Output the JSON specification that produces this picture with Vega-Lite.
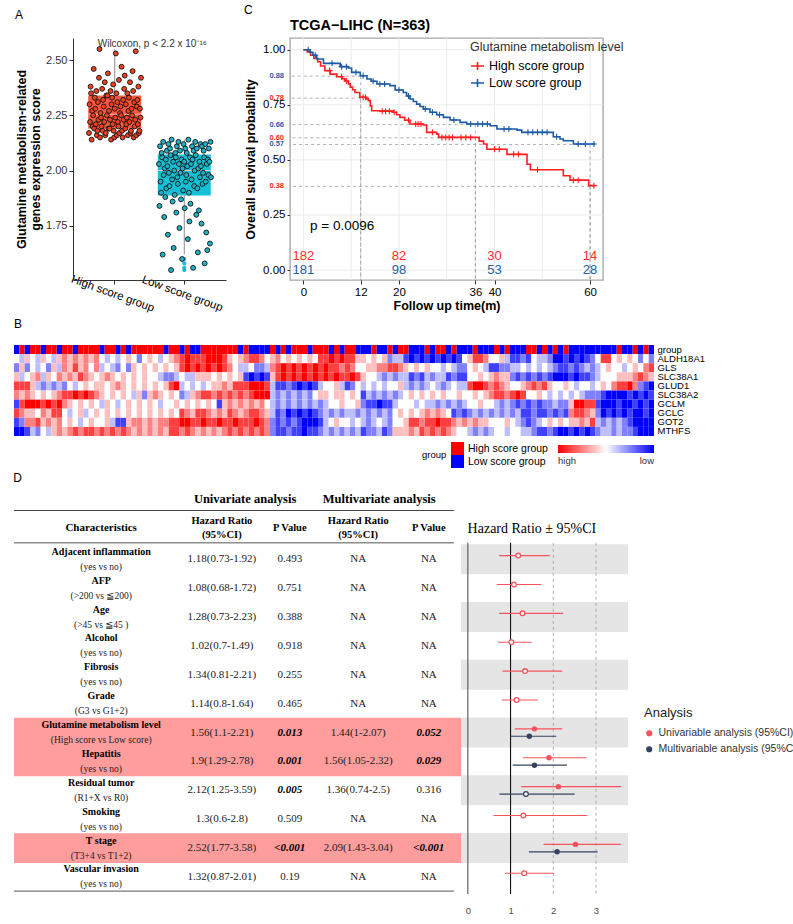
{
"$schema": "https://vega.github.io/schema/vega-lite/v6.json",
"background": "white",
"padding": {"left": 13, "top": 4, "right": 0, "bottom": 0},
"align": "none",
"config": {
  "view": {"stroke": null},
  "font": "Liberation Sans",
  "title": {"font": "Liberation Sans", "color": "black", "fontWeight": "normal", "fontSize": 12},
  "axis": {"labelFont": "Liberation Sans", "titleFont": "Liberation Sans", "labelColor": "black", "titleColor": "black"},
  "legend": {"labelFont": "Liberation Sans", "titleFont": "Liberation Sans"}
},
"datasets": {
  "boxA": [
{"g":"H","v":2.17,"i":1},{"g":"H","v":2.30,"i":2},{"g":"H","v":2.22,"i":3},{"g":"H","v":2.38,"i":4},
{"g":"H","v":2.35,"i":5},{"g":"H","v":2.14,"i":6},{"g":"H","v":2.27,"i":7},{"g":"H","v":2.20,"i":8},
{"g":"H","v":2.25,"i":9},{"g":"H","v":2.46,"i":10},{"g":"H","v":2.19,"i":11},{"g":"H","v":2.33,"i":12},
{"g":"H","v":2.28,"i":13},{"g":"H","v":2.21,"i":14},{"g":"H","v":2.36,"i":15},{"g":"H","v":2.16,"i":16},
{"g":"H","v":2.18,"i":17},{"g":"H","v":2.31,"i":18},{"g":"H","v":2.23,"i":19},{"g":"H","v":2.42,"i":20},
{"g":"H","v":2.55,"i":21},{"g":"H","v":2.15,"i":22},{"g":"H","v":2.26,"i":23},{"g":"H","v":2.24,"i":24},
{"g":"H","v":2.20,"i":25},{"g":"H","v":2.37,"i":26},{"g":"H","v":2.18,"i":27},{"g":"H","v":2.32,"i":28},
{"g":"H","v":2.29,"i":29},{"g":"H","v":2.22,"i":30},{"g":"H","v":2.40,"i":31},{"g":"H","v":2.16,"i":32},
{"g":"H","v":2.17,"i":33},{"g":"H","v":2.34,"i":34},{"g":"H","v":2.25,"i":35},{"g":"H","v":2.34,"i":36},
{"g":"H","v":2.44,"i":37},{"g":"H","v":2.19,"i":38},{"g":"H","v":2.27,"i":39},{"g":"H","v":2.19,"i":40},
{"g":"H","v":2.23,"i":41},{"g":"H","v":2.36,"i":42},{"g":"H","v":2.14,"i":43},{"g":"H","v":2.30,"i":44},
{"g":"H","v":2.33,"i":45},{"g":"H","v":2.21,"i":46},{"g":"H","v":2.39,"i":47},{"g":"H","v":2.18,"i":48},
{"g":"H","v":2.15,"i":49},{"g":"H","v":2.28,"i":50},{"g":"H","v":2.24,"i":51},{"g":"H","v":2.53,"i":52},
{"g":"H","v":2.35,"i":53},{"g":"H","v":2.16,"i":54},{"g":"H","v":2.31,"i":55},{"g":"H","v":2.22,"i":56},
{"g":"H","v":2.20,"i":57},{"g":"H","v":2.41,"i":58},{"g":"H","v":2.17,"i":59},{"g":"H","v":2.26,"i":60},
{"g":"H","v":2.29,"i":61},{"g":"H","v":2.25,"i":62},{"g":"H","v":2.47,"i":63},{"g":"H","v":2.18,"i":64},
{"g":"H","v":2.15,"i":65},{"g":"H","v":2.32,"i":66},{"g":"H","v":2.23,"i":67},{"g":"H","v":2.37,"i":68},
{"g":"H","v":2.43,"i":69},{"g":"H","v":2.19,"i":70},{"g":"H","v":2.30,"i":71},{"g":"H","v":2.21,"i":72},
{"g":"H","v":2.24,"i":73},{"g":"H","v":2.35,"i":74},{"g":"H","v":2.16,"i":75},{"g":"H","v":2.27,"i":76},
{"g":"H","v":2.33,"i":77},{"g":"H","v":2.22,"i":78},{"g":"H","v":2.40,"i":79},{"g":"H","v":2.17,"i":80},
{"g":"H","v":2.18,"i":81},{"g":"H","v":2.28,"i":82},{"g":"H","v":2.25,"i":83},{"g":"H","v":2.45,"i":84},
{"g":"H","v":2.36,"i":85},{"g":"H","v":2.15,"i":86},{"g":"H","v":2.31,"i":87},{"g":"H","v":2.20,"i":88},
{"g":"H","v":2.23,"i":89},{"g":"H","v":2.54,"i":90},{"g":"H","v":2.16,"i":91},{"g":"H","v":2.29,"i":92},
{"g":"H","v":2.32,"i":93},{"g":"H","v":2.21,"i":94},{"g":"H","v":2.38,"i":95},{"g":"H","v":2.17,"i":96},
{"g":"H","v":2.18,"i":97},{"g":"H","v":2.28,"i":98},{"g":"H","v":2.24,"i":99},{"g":"H","v":2.42,"i":100},
{"g":"L","v":2.03,"i":1},{"g":"L","v":1.84,"i":2},{"g":"L","v":2.11,"i":3},{"g":"L","v":1.95,"i":4},
{"g":"L","v":1.90,"i":5},{"g":"L","v":2.08,"i":6},{"g":"L","v":2.06,"i":7},{"g":"L","v":1.62,"i":8},
{"g":"L","v":2.13,"i":9},{"g":"L","v":1.98,"i":10},{"g":"L","v":1.79,"i":11},{"g":"L","v":2.01,"i":12},
{"g":"L","v":1.88,"i":13},{"g":"L","v":2.05,"i":14},{"g":"L","v":1.92,"i":15},{"g":"L","v":2.09,"i":16},
{"g":"L","v":2.02,"i":17},{"g":"L","v":1.71,"i":18},{"g":"L","v":2.12,"i":19},{"g":"L","v":1.99,"i":20},
{"g":"L","v":1.93,"i":21},{"g":"L","v":2.10,"i":22},{"g":"L","v":2.07,"i":23},{"g":"L","v":1.55,"i":24},
{"g":"L","v":2.14,"i":25},{"g":"L","v":1.96,"i":26},{"g":"L","v":1.86,"i":27},{"g":"L","v":2.04,"i":28},
{"g":"L","v":1.65,"i":29},{"g":"L","v":2.00,"i":30},{"g":"L","v":1.89,"i":31},{"g":"L","v":2.08,"i":32},
{"g":"L","v":2.06,"i":33},{"g":"L","v":1.81,"i":34},{"g":"L","v":2.11,"i":35},{"g":"L","v":1.97,"i":36},
{"g":"L","v":1.94,"i":37},{"g":"L","v":2.13,"i":38},{"g":"L","v":2.03,"i":39},{"g":"L","v":1.74,"i":40},
{"g":"L","v":2.09,"i":41},{"g":"L","v":1.99,"i":42},{"g":"L","v":1.87,"i":43},{"g":"L","v":2.05,"i":44},
{"g":"L","v":1.60,"i":45},{"g":"L","v":2.01,"i":46},{"g":"L","v":1.91,"i":47},{"g":"L","v":2.12,"i":48},
{"g":"L","v":2.04,"i":49},{"g":"L","v":1.83,"i":50},{"g":"L","v":2.10,"i":51},{"g":"L","v":1.95,"i":52},
{"g":"L","v":1.98,"i":53},{"g":"L","v":2.08,"i":54},{"g":"L","v":2.02,"i":55},{"g":"L","v":1.69,"i":56},
{"g":"L","v":2.14,"i":57},{"g":"L","v":1.90,"i":58},{"g":"L","v":1.77,"i":59},{"g":"L","v":2.06,"i":60},
{"g":"L","v":1.85,"i":61},{"g":"L","v":2.03,"i":62},{"g":"L","v":1.96,"i":63},{"g":"L","v":2.11,"i":64},
{"g":"L","v":2.05,"i":65},{"g":"L","v":1.56,"i":66},{"g":"L","v":2.09,"i":67},{"g":"L","v":1.93,"i":68},
{"g":"L","v":2.00,"i":69},{"g":"L","v":2.13,"i":70},{"g":"L","v":2.07,"i":71},{"g":"L","v":1.80,"i":72},
{"g":"L","v":2.10,"i":73},{"g":"L","v":1.92,"i":74},{"g":"L","v":1.63,"i":75},{"g":"L","v":2.01,"i":76},
{"g":"L","v":1.82,"i":77},{"g":"L","v":2.04,"i":78},{"g":"L","v":1.97,"i":79},{"g":"L","v":2.12,"i":80},
{"g":"L","v":2.02,"i":81},{"g":"L","v":1.76,"i":82},{"g":"L","v":2.11,"i":83},{"g":"L","v":1.94,"i":84},
{"g":"L","v":1.99,"i":85},{"g":"L","v":2.09,"i":86},{"g":"L","v":2.06,"i":87},{"g":"L","v":1.58,"i":88},
{"g":"L","v":2.12,"i":89},{"g":"L","v":1.95,"i":90},{"g":"L","v":1.72,"i":91},{"g":"L","v":2.03,"i":92},
{"g":"L","v":1.64,"i":93},{"g":"L","v":2.05,"i":94},{"g":"L","v":1.98,"i":95},{"g":"L","v":2.10,"i":96},
{"g":"L","v":2.04,"i":97},{"g":"L","v":1.67,"i":98},{"g":"L","v":2.13,"i":99},{"g":"L","v":1.97,"i":100}
  ],
  "km": [
{"g":"High score group","t":0,"s":1},{"g":"High score group","t":0.8,"s":0.99},{"g":"High score group","t":1.5,"s":0.975},{"g":"High score group","t":2.2,"s":0.96},{"g":"High score group","t":3,"s":0.945},{"g":"High score group","t":3.6,"s":0.926},{"g":"High score group","t":4.5,"s":0.905},{"g":"High score group","t":5.6,"s":0.889},{"g":"High score group","t":7,"s":0.877},{"g":"High score group","t":8.1,"s":0.868},{"g":"High score group","t":8.7,"s":0.858},{"g":"High score group","t":9.4,"s":0.845},{"g":"High score group","t":9.8,"s":0.83},{"g":"High score group","t":10.3,"s":0.818},{"g":"High score group","t":10.8,"s":0.806},{"g":"High score group","t":11.8,"s":0.784},{"g":"High score group","t":13.1,"s":0.777},{"g":"High score group","t":13.6,"s":0.769},{"g":"High score group","t":14,"s":0.745},{"g":"High score group","t":14.3,"s":0.723},{"g":"High score group","t":16,"s":0.721},{"g":"High score group","t":18.8,"s":0.716},{"g":"High score group","t":19.5,"s":0.705},{"g":"High score group","t":20.2,"s":0.693},{"g":"High score group","t":21.2,"s":0.68},{"g":"High score group","t":22.3,"s":0.663},{"g":"High score group","t":25.1,"s":0.658},{"g":"High score group","t":25.8,"s":0.625},{"g":"High score group","t":27.9,"s":0.617},{"g":"High score group","t":28.3,"s":0.602},{"g":"High score group","t":36.8,"s":0.585},{"g":"High score group","t":37.7,"s":0.572},{"g":"High score group","t":38.4,"s":0.548},{"g":"High score group","t":42.6,"s":0.525},{"g":"High score group","t":46.8,"s":0.48},{"g":"High score group","t":47.5,"s":0.455},{"g":"High score group","t":54.4,"s":0.428},{"g":"High score group","t":55.8,"s":0.408},{"g":"High score group","t":59.7,"s":0.383},{"g":"High score group","t":61,"s":0.383},
{"g":"Low score group","t":0,"s":1},{"g":"Low score group","t":1.4,"s":0.988},{"g":"Low score group","t":2,"s":0.975},{"g":"Low score group","t":2.8,"s":0.958},{"g":"Low score group","t":4.2,"s":0.938},{"g":"Low score group","t":7.7,"s":0.923},{"g":"Low score group","t":9.4,"s":0.917},{"g":"Low score group","t":10.1,"s":0.897},{"g":"Low score group","t":11.9,"s":0.882},{"g":"Low score group","t":13.3,"s":0.867},{"g":"Low score group","t":14.2,"s":0.857},{"g":"Low score group","t":15.4,"s":0.844},{"g":"Low score group","t":18.1,"s":0.837},{"g":"Low score group","t":19.2,"s":0.817},{"g":"Low score group","t":20.9,"s":0.806},{"g":"Low score group","t":21.6,"s":0.79},{"g":"Low score group","t":22.3,"s":0.776},{"g":"Low score group","t":23,"s":0.765},{"g":"Low score group","t":23.7,"s":0.753},{"g":"Low score group","t":24.4,"s":0.742},{"g":"Low score group","t":25.1,"s":0.731},{"g":"Low score group","t":26.5,"s":0.716},{"g":"Low score group","t":27.9,"s":0.705},{"g":"Low score group","t":29.3,"s":0.693},{"g":"Low score group","t":30.7,"s":0.681},{"g":"Low score group","t":32.8,"s":0.67},{"g":"Low score group","t":34.2,"s":0.663},{"g":"Low score group","t":39.1,"s":0.655},{"g":"Low score group","t":40.5,"s":0.64},{"g":"Low score group","t":44.7,"s":0.635},{"g":"Low score group","t":45.7,"s":0.625},{"g":"Low score group","t":52.3,"s":0.605},{"g":"Low score group","t":53.7,"s":0.595},{"g":"Low score group","t":54.4,"s":0.587},{"g":"Low score group","t":56.5,"s":0.572},{"g":"Low score group","t":61,"s":0.572}
  ],
  "cens": [
{"g":"High score group","t":5.5,"s":0.905},{"g":"High score group","t":8,"s":0.877},{"g":"High score group","t":9,"s":0.858},{"g":"High score group","t":12.5,"s":0.784},{"g":"High score group","t":13,"s":0.784},{"g":"High score group","t":16.5,"s":0.721},{"g":"High score group","t":17.2,"s":0.721},{"g":"High score group","t":18,"s":0.721},{"g":"High score group","t":19,"s":0.716},{"g":"High score group","t":22,"s":0.68},{"g":"High score group","t":23.5,"s":0.663},{"g":"High score group","t":24,"s":0.663},{"g":"High score group","t":24.6,"s":0.663},{"g":"High score group","t":27,"s":0.625},{"g":"High score group","t":29,"s":0.602},{"g":"High score group","t":29.8,"s":0.602},{"g":"High score group","t":30.5,"s":0.602},{"g":"High score group","t":31.2,"s":0.602},{"g":"High score group","t":33,"s":0.602},{"g":"High score group","t":34,"s":0.602},{"g":"High score group","t":35,"s":0.602},{"g":"High score group","t":40,"s":0.548},{"g":"High score group","t":41,"s":0.548},{"g":"High score group","t":44,"s":0.525},{"g":"High score group","t":45,"s":0.525},{"g":"High score group","t":49,"s":0.455},{"g":"High score group","t":56.5,"s":0.408},{"g":"High score group","t":57.5,"s":0.408},{"g":"High score group","t":60.8,"s":0.383},
{"g":"Low score group","t":1,"s":1},{"g":"Low score group","t":2.5,"s":0.975},{"g":"Low score group","t":6,"s":0.938},{"g":"Low score group","t":8,"s":0.923},{"g":"Low score group","t":9,"s":0.923},{"g":"Low score group","t":11,"s":0.897},{"g":"Low score group","t":12.5,"s":0.882},{"g":"Low score group","t":14.6,"s":0.857},{"g":"Low score group","t":16,"s":0.844},{"g":"Low score group","t":17,"s":0.844},{"g":"Low score group","t":20,"s":0.817},{"g":"Low score group","t":22,"s":0.79},{"g":"Low score group","t":25.5,"s":0.731},{"g":"Low score group","t":27,"s":0.716},{"g":"Low score group","t":28.5,"s":0.705},{"g":"Low score group","t":31.5,"s":0.681},{"g":"Low score group","t":35,"s":0.663},{"g":"Low score group","t":36.5,"s":0.663},{"g":"Low score group","t":37.5,"s":0.663},{"g":"Low score group","t":38.5,"s":0.663},{"g":"Low score group","t":42,"s":0.64},{"g":"Low score group","t":43,"s":0.64},{"g":"Low score group","t":47,"s":0.625},{"g":"Low score group","t":48,"s":0.625},{"g":"Low score group","t":49,"s":0.625},{"g":"Low score group","t":50,"s":0.625},{"g":"Low score group","t":51,"s":0.625},{"g":"Low score group","t":53,"s":0.605},{"g":"Low score group","t":57.5,"s":0.572},{"g":"Low score group","t":59,"s":0.572},{"g":"Low score group","t":60.8,"s":0.572}
  ],
  "kmref": [{"t":12,"s":0.88,"g":"L"},{"t":12,"s":0.78,"g":"H"},{"t":36,"s":0.66,"g":"L"},{"t":36,"s":0.6,"g":"H"},{"t":60,"s":0.57,"g":"L"},{"t":60,"s":0.38,"g":"H"}],
  "risk": [{"g":"H","t":0,"n":182},{"g":"H","t":20,"n":82},{"g":"H","t":40,"n":30},{"g":"H","t":60,"n":14},{"g":"L","t":0,"n":181},{"g":"L","t":20,"n":98},{"g":"L","t":40,"n":53},{"g":"L","t":60,"n":28}],
  "gx": [{"v":0},{"v":10},{"v":20},{"v":30},{"v":40},{"v":50},{"v":60}],
  "gy": [{"v":0},{"v":0.25},{"v":0.5},{"v":0.75},{"v":1}],
  "heat": [
{"col":1,"grp":"L","a":0,"b":-2,"c":1,"d":3,"e":2,"f":-3,"g":3,"h":-3,"i":-4},
{"col":2,"grp":"H","a":-1,"b":1,"c":-1,"d":3,"e":1,"f":3,"g":2,"h":-2,"i":-4},
{"col":3,"grp":"L","a":1,"b":-2,"c":0,"d":3,"e":2,"f":4,"g":1,"h":2,"i":-3},
{"col":4,"grp":"H","a":0,"b":0,"c":1,"d":1,"e":1,"f":4,"g":1,"h":2,"i":-1},
{"col":5,"grp":"H","a":-1,"b":-1,"c":2,"d":-1,"e":0,"f":4,"g":0,"h":3,"i":-2},
{"col":6,"grp":"L","a":1,"b":0,"c":-1,"d":-2,"e":1,"f":3,"g":2,"h":1,"i":0},
{"col":7,"grp":"H","a":0,"b":-2,"c":1,"d":-1,"e":0,"f":4,"g":1,"h":2,"i":-1},
{"col":8,"grp":"H","a":-1,"b":1,"c":0,"d":-2,"e":1,"f":3,"g":3,"h":1,"i":1},
{"col":9,"grp":"L","a":1,"b":-1,"c":2,"d":-1,"e":2,"f":4,"g":3,"h":2,"i":2},
{"col":10,"grp":"H","a":2,"b":2,"c":1,"d":-2,"e":3,"f":2,"g":0,"h":0,"i":1},
{"col":11,"grp":"H","a":1,"b":1,"c":2,"d":0,"e":3,"f":1,"g":-1,"h":1,"i":2},
{"col":12,"grp":"L","a":2,"b":3,"c":1,"d":-1,"e":4,"f":0,"g":0,"h":0,"i":3},
{"col":13,"grp":"H","a":1,"b":1,"c":3,"d":0,"e":3,"f":1,"g":1,"h":-1,"i":2},
{"col":14,"grp":"H","a":2,"b":2,"c":2,"d":1,"e":4,"f":0,"g":-1,"h":0,"i":3},
{"col":15,"grp":"H","a":1,"b":0,"c":1,"d":0,"e":3,"f":1,"g":0,"h":1,"i":3},
{"col":16,"grp":"H","a":2,"b":2,"c":0,"d":1,"e":2,"f":0,"g":1,"h":0,"i":2},
{"col":17,"grp":"L","a":0,"b":-1,"c":1,"d":1,"e":1,"f":-1,"g":0,"h":0,"i":3},
{"col":18,"grp":"H","a":-1,"b":0,"c":2,"d":0,"e":0,"f":1,"g":1,"h":1,"i":2},
{"col":19,"grp":"H","a":0,"b":-1,"c":1,"d":1,"e":1,"f":0,"g":0,"h":-1,"i":3},
{"col":20,"grp":"L","a":-1,"b":-2,"c":0,"d":2,"e":0,"f":-1,"g":1,"h":-3,"i":2},
{"col":21,"grp":"H","a":0,"b":0,"c":1,"d":1,"e":1,"f":0,"g":0,"h":-3,"i":3},
{"col":22,"grp":"L","a":1,"b":-2,"c":0,"d":0,"e":0,"f":1,"g":1,"h":1,"i":2},
{"col":23,"grp":"H","a":0,"b":1,"c":1,"d":1,"e":-1,"f":0,"g":0,"h":2,"i":1},
{"col":24,"grp":"H","a":-2,"b":0,"c":0,"d":0,"e":1,"f":1,"g":1,"h":2,"i":2},
{"col":25,"grp":"H","a":0,"b":1,"c":1,"d":1,"e":-2,"f":0,"g":0,"h":1,"i":1},
{"col":26,"grp":"H","a":1,"b":0,"c":0,"d":0,"e":1,"f":1,"g":1,"h":2,"i":2},
{"col":27,"grp":"H","a":0,"b":1,"c":0,"d":1,"e":2,"f":0,"g":0,"h":1,"i":1},
{"col":28,"grp":"H","a":-1,"b":0,"c":-1,"d":0,"e":1,"f":-1,"g":1,"h":2,"i":2},
{"col":29,"grp":"L","a":0,"b":1,"c":-2,"d":1,"e":0,"f":0,"g":0,"h":2,"i":1},
{"col":30,"grp":"H","a":1,"b":0,"c":-2,"d":3,"e":1,"f":0,"g":1,"h":3,"i":3},
{"col":31,"grp":"H","a":2,"b":1,"c":-1,"d":4,"e":0,"f":1,"g":0,"h":3,"i":3},
{"col":32,"grp":"L","a":3,"b":3,"c":0,"d":-1,"e":-2,"f":0,"g":3,"h":4,"i":2},
{"col":33,"grp":"H","a":4,"b":4,"c":-1,"d":0,"e":-1,"f":1,"g":2,"h":4,"i":3},
{"col":34,"grp":"L","a":3,"b":3,"c":-1,"d":-1,"e":1,"f":0,"g":1,"h":3,"i":2},
{"col":35,"grp":"L","a":3,"b":4,"c":1,"d":0,"e":2,"f":1,"g":3,"h":3,"i":1},
{"col":36,"grp":"H","a":3,"b":3,"c":1,"d":-1,"e":3,"f":0,"g":3,"h":4,"i":2},
{"col":37,"grp":"H","a":4,"b":4,"c":1,"d":0,"e":3,"f":1,"g":2,"h":3,"i":1},
{"col":38,"grp":"H","a":4,"b":3,"c":0,"d":1,"e":2,"f":0,"g":1,"h":3,"i":2},
{"col":39,"grp":"H","a":4,"b":4,"c":1,"d":1,"e":3,"f":-3,"g":2,"h":4,"i":1},
{"col":40,"grp":"H","a":3,"b":3,"c":0,"d":2,"e":2,"f":1,"g":1,"h":3,"i":2},
{"col":41,"grp":"H","a":1,"b":2,"c":1,"d":1,"e":3,"f":2,"g":3,"h":3,"i":3},
{"col":42,"grp":"H","a":0,"b":0,"c":0,"d":3,"e":2,"f":1,"g":2,"h":4,"i":2},
{"col":43,"grp":"L","a":1,"b":-1,"c":1,"d":3,"e":3,"f":2,"g":1,"h":3,"i":3},
{"col":44,"grp":"H","a":2,"b":-1,"c":-3,"d":3,"e":2,"f":1,"g":2,"h":3,"i":2},
{"col":45,"grp":"L","a":3,"b":0,"c":-4,"d":4,"e":3,"f":2,"g":3,"h":3,"i":3},
{"col":46,"grp":"L","a":3,"b":-2,"c":-3,"d":4,"e":4,"f":1,"g":3,"h":4,"i":2},
{"col":47,"grp":"L","a":2,"b":-2,"c":-4,"d":4,"e":4,"f":2,"g":2,"h":3,"i":3},
{"col":48,"grp":"L","a":0,"b":-1,"c":-3,"d":3,"e":4,"f":0,"g":1,"h":2,"i":2},
{"col":49,"grp":"H","a":1,"b":2,"c":1,"d":-1,"e":-1,"f":-1,"g":-1,"h":-2,"i":-2},
{"col":50,"grp":"L","a":2,"b":3,"c":3,"d":-3,"e":-2,"f":-2,"g":-3,"h":-3,"i":-3},
{"col":51,"grp":"H","a":0,"b":4,"c":4,"d":-3,"e":-1,"f":-1,"g":-2,"h":-2,"i":-3},
{"col":52,"grp":"L","a":1,"b":3,"c":3,"d":-2,"e":-2,"f":-2,"g":-4,"h":-3,"i":-2},
{"col":53,"grp":"H","a":0,"b":4,"c":4,"d":-3,"e":-1,"f":-1,"g":-3,"h":-2,"i":-3},
{"col":54,"grp":"H","a":1,"b":3,"c":3,"d":-4,"e":-2,"f":-2,"g":-4,"h":-3,"i":-3},
{"col":55,"grp":"H","a":0,"b":4,"c":4,"d":-3,"e":-1,"f":-1,"g":-3,"h":-4,"i":-4},
{"col":56,"grp":"L","a":1,"b":3,"c":3,"d":-4,"e":-2,"f":-2,"g":-4,"h":-4,"i":-3},
{"col":57,"grp":"H","a":0,"b":4,"c":4,"d":-3,"e":0,"f":-1,"g":-3,"h":-4,"i":-3},
{"col":58,"grp":"H","a":3,"b":3,"c":3,"d":-1,"e":1,"f":-2,"g":-2,"h":-3,"i":-2},
{"col":59,"grp":"H","a":3,"b":4,"c":4,"d":0,"e":1,"f":-1,"g":-1,"h":-1,"i":-1},
{"col":60,"grp":"L","a":4,"b":3,"c":3,"d":0,"e":0,"f":0,"g":-2,"h":0,"i":-2},
{"col":61,"grp":"H","a":3,"b":3,"c":4,"d":1,"e":1,"f":0,"g":-1,"h":1,"i":-1},
{"col":62,"grp":"L","a":4,"b":2,"c":3,"d":-1,"e":1,"f":1,"g":-2,"h":0,"i":-2},
{"col":63,"grp":"H","a":3,"b":3,"c":3,"d":-3,"e":0,"f":0,"g":-1,"h":0,"i":-1},
{"col":64,"grp":"H","a":3,"b":2,"c":4,"d":-2,"e":1,"f":0,"g":-1,"h":-1,"i":-2},
{"col":65,"grp":"L","a":1,"b":0,"c":3,"d":0,"e":0,"f":1,"g":-2,"h":0,"i":-1},
{"col":66,"grp":"L","a":1,"b":0,"c":1,"d":-1,"e":-3,"f":-2,"g":-1,"h":-1,"i":-3},
{"col":67,"grp":"L","a":0,"b":1,"c":0,"d":0,"e":-1,"f":-3,"g":-2,"h":-2,"i":-2},
{"col":68,"grp":"H","a":1,"b":1,"c":0,"d":-1,"e":-2,"f":-3,"g":-1,"h":-1,"i":-2},
{"col":69,"grp":"L","a":0,"b":2,"c":-1,"d":0,"e":-1,"f":-4,"g":-2,"h":0,"i":-1},
{"col":70,"grp":"L","a":1,"b":2,"c":-2,"d":-1,"e":-2,"f":-3,"g":-1,"h":-1,"i":-3},
{"col":71,"grp":"H","a":-2,"b":3,"c":-1,"d":0,"e":-1,"f":-3,"g":-2,"h":-2,"i":-2},
{"col":72,"grp":"L","a":-1,"b":3,"c":-2,"d":0,"e":-2,"f":-1,"g":0,"h":0,"i":1},
{"col":73,"grp":"H","a":-1,"b":2,"c":-1,"d":1,"e":-1,"f":0,"g":1,"h":0,"i":1},
{"col":74,"grp":"H","a":-3,"b":1,"c":-1,"d":-1,"e":0,"f":0,"g":0,"h":1,"i":1},
{"col":75,"grp":"L","a":-4,"b":0,"c":-3,"d":-2,"e":1,"f":0,"g":1,"h":3,"i":2},
{"col":76,"grp":"L","a":-3,"b":1,"c":-2,"d":-1,"e":0,"f":-1,"g":0,"h":3,"i":1},
{"col":77,"grp":"L","a":-4,"b":0,"c":-3,"d":-2,"e":1,"f":0,"g":1,"h":2,"i":3},
{"col":78,"grp":"H","a":-3,"b":1,"c":-1,"d":-1,"e":0,"f":-1,"g":2,"h":3,"i":2},
{"col":79,"grp":"L","a":-4,"b":0,"c":-2,"d":0,"e":1,"f":-1,"g":1,"h":3,"i":3},
{"col":80,"grp":"H","a":-3,"b":0,"c":-1,"d":-1,"e":0,"f":-2,"g":2,"h":4,"i":2},
{"col":81,"grp":"H","a":-4,"b":-1,"c":-1,"d":-2,"e":1,"f":-1,"g":1,"h":3,"i":3},
{"col":82,"grp":"L","a":-3,"b":0,"c":-3,"d":-1,"e":0,"f":-2,"g":0,"h":3,"i":2},
{"col":83,"grp":"H","a":-4,"b":-1,"c":-2,"d":0,"e":0,"f":-1,"g":-3,"h":2,"i":1},
{"col":84,"grp":"L","a":-3,"b":-2,"c":-3,"d":-1,"e":1,"f":-2,"g":-2,"h":1,"i":0},
{"col":85,"grp":"L","a":0,"b":-2,"c":-3,"d":-1,"e":0,"f":-1,"g":-3,"h":2,"i":0},
{"col":86,"grp":"L","a":1,"b":0,"c":0,"d":3,"e":0,"f":0,"g":-2,"h":1,"i":-1},
{"col":87,"grp":"H","a":3,"b":1,"c":0,"d":4,"e":1,"f":0,"g":-1,"h":2,"i":-2},
{"col":88,"grp":"L","a":3,"b":0,"c":1,"d":4,"e":0,"f":1,"g":-2,"h":1,"i":-1},
{"col":89,"grp":"L","a":2,"b":-1,"c":0,"d":3,"e":1,"f":0,"g":-1,"h":1,"i":-2},
{"col":90,"grp":"L","a":0,"b":-3,"c":1,"d":2,"e":2,"f":0,"g":-2,"h":0,"i":-1},
{"col":91,"grp":"H","a":0,"b":-3,"c":2,"d":3,"e":3,"f":-1,"g":-1,"h":0,"i":0},
{"col":92,"grp":"L","a":1,"b":-2,"c":1,"d":2,"e":3,"f":-2,"g":-2,"h":0,"i":0},
{"col":93,"grp":"H","a":-1,"b":-2,"c":1,"d":1,"e":2,"f":-1,"g":-1,"h":1,"i":-1},
{"col":94,"grp":"L","a":-3,"b":-1,"c":-2,"d":0,"e":3,"f":-2,"g":-2,"h":0,"i":0},
{"col":95,"grp":"L","a":-3,"b":-1,"c":-3,"d":0,"e":4,"f":-3,"g":-1,"h":-1,"i":0},
{"col":96,"grp":"L","a":-2,"b":0,"c":-2,"d":1,"e":3,"f":-2,"g":-3,"h":-2,"i":-1},
{"col":97,"grp":"H","a":-3,"b":-1,"c":-3,"d":2,"e":0,"f":-3,"g":-3,"h":-3,"i":-1},
{"col":98,"grp":"H","a":0,"b":0,"c":-2,"d":3,"e":0,"f":-2,"g":-2,"h":-2,"i":-2},
{"col":99,"grp":"L","a":-1,"b":-1,"c":-3,"d":2,"e":1,"f":-3,"g":-3,"h":-1,"i":-3},
{"col":100,"grp":"H","a":-1,"b":0,"c":-2,"d":3,"e":0,"f":-2,"g":-3,"h":0,"i":-3},
{"col":101,"grp":"L","a":-2,"b":-1,"c":-3,"d":1,"e":-1,"f":-2,"g":-2,"h":1,"i":-2},
{"col":102,"grp":"H","a":-4,"b":-2,"c":-4,"d":0,"e":0,"f":-1,"g":-3,"h":0,"i":-3},
{"col":103,"grp":"L","a":-4,"b":-3,"c":-4,"d":0,"e":-1,"f":-2,"g":-2,"h":1,"i":-4},
{"col":104,"grp":"H","a":-3,"b":-3,"c":-4,"d":1,"e":0,"f":-2,"g":-3,"h":0,"i":-4},
{"col":105,"grp":"L","a":-4,"b":-2,"c":-3,"d":0,"e":-1,"f":1,"g":2,"h":1,"i":-3},
{"col":106,"grp":"L","a":-3,"b":-3,"c":-4,"d":-1,"e":0,"f":4,"g":3,"h":1,"i":-4},
{"col":107,"grp":"L","a":-4,"b":-2,"c":-3,"d":0,"e":-1,"f":4,"g":3,"h":2,"i":-3},
{"col":108,"grp":"L","a":-3,"b":-1,"c":-3,"d":0,"e":-2,"f":3,"g":2,"h":1,"i":-4},
{"col":109,"grp":"L","a":-2,"b":-2,"c":-2,"d":-1,"e":-2,"f":3,"g":1,"h":3,"i":-3},
{"col":110,"grp":"L","a":0,"b":-1,"c":-1,"d":0,"e":-2,"f":-3,"g":-2,"h":-1,"i":-2},
{"col":111,"grp":"L","a":3,"b":0,"c":0,"d":1,"e":-3,"f":-4,"g":-4,"h":-2,"i":-1},
{"col":112,"grp":"L","a":3,"b":1,"c":0,"d":0,"e":-4,"f":-4,"g":-3,"h":-1,"i":-1},
{"col":113,"grp":"L","a":0,"b":0,"c":0,"d":2,"e":-4,"f":-4,"g":-4,"h":-2,"i":-2},
{"col":114,"grp":"H","a":1,"b":0,"c":1,"d":3,"e":-4,"f":-3,"g":-3,"h":-1,"i":-1},
{"col":115,"grp":"L","a":0,"b":-1,"c":1,"d":3,"e":-4,"f":-4,"g":-4,"h":-2,"i":-2},
{"col":116,"grp":"L","a":1,"b":0,"c":1,"d":4,"e":-3,"f":-4,"g":-3,"h":-3,"i":-2},
{"col":117,"grp":"H","a":0,"b":1,"c":2,"d":2,"e":-4,"f":-3,"g":-4,"h":-4,"i":-3},
{"col":118,"grp":"L","a":-2,"b":0,"c":3,"d":-2,"e":-3,"f":-4,"g":-4,"h":-4,"i":-4},
{"col":119,"grp":"H","a":0,"b":2,"c":2,"d":-3,"e":-4,"f":-3,"g":-3,"h":-4,"i":-4},
{"col":120,"grp":"L","a":-2,"b":3,"c":1,"d":-4,"e":-3,"f":-4,"g":-4,"h":-4,"i":-4}
  ],
  "tab": [
{"r":1,"name":"Adjacent inflammation","sub":"(yes vs no)","uhr":"1.18(0.73-1.92)","up":"0.493","us":false,"mhr":"NA","mp":"NA","ms":false,"hl":false},
{"r":2,"name":"AFP","sub":"(>200 vs  ≦200)","uhr":"1.08(0.68-1.72)","up":"0.751","us":false,"mhr":"NA","mp":"NA","ms":false,"hl":false},
{"r":3,"name":"Age","sub":"(>45 vs  ≦45 )","uhr":"1.28(0.73-2.23)","up":"0.388","us":false,"mhr":"NA","mp":"NA","ms":false,"hl":false},
{"r":4,"name":"Alcohol","sub":"(yes vs no)","uhr":"1.02(0.7-1.49)","up":"0.918","us":false,"mhr":"NA","mp":"NA","ms":false,"hl":false},
{"r":5,"name":"Fibrosis","sub":"(yes vs no)","uhr":"1.34(0.81-2.21)","up":"0.255","us":false,"mhr":"NA","mp":"NA","ms":false,"hl":false},
{"r":6,"name":"Grade","sub":"(G3 vs G1+2)","uhr":"1.14(0.8-1.64)","up":"0.465","us":false,"mhr":"NA","mp":"NA","ms":false,"hl":false},
{"r":7,"name":"Glutamine metabolism level","sub":"(High score vs Low score)","uhr":"1.56(1.1-2.21)","up":"0.013","us":true,"mhr":"1.44(1-2.07)","mp":"0.052","ms":true,"hl":true},
{"r":8,"name":"Hepatitis","sub":"(yes vs no)","uhr":"1.9(1.29-2.78)","up":"0.001","us":true,"mhr":"1.56(1.05-2.32)","mp":"0.029","ms":true,"hl":true},
{"r":9,"name":"Residual tumor","sub":"(R1+X vs R0)","uhr":"2.12(1.25-3.59)","up":"0.005","us":true,"mhr":"1.36(0.74-2.5)","mp":"0.316","ms":false,"hl":false},
{"r":10,"name":"Smoking","sub":"(yes vs no)","uhr":"1.3(0.6-2.8)","up":"0.509","us":false,"mhr":"NA","mp":"NA","ms":false,"hl":false},
{"r":11,"name":"T stage","sub":"(T3+4 vs T1+2)","uhr":"2.52(1.77-3.58)","up":"<0.001","us":true,"mhr":"2.09(1.43-3.04)","mp":"<0.001","ms":true,"hl":true},
{"r":12,"name":"Vascular invasion","sub":"(yes vs no)","uhr":"1.32(0.87-2.01)","up":"0.19","us":false,"mhr":"NA","mp":"NA","ms":false,"hl":false}
  ],
  "forest": [
{"r":1,"a":"Univariable analysis (95%CI)","hr":1.18,"lo":0.73,"hi":1.92,"sig":false},
{"r":2,"a":"Univariable analysis (95%CI)","hr":1.08,"lo":0.68,"hi":1.72,"sig":false},
{"r":3,"a":"Univariable analysis (95%CI)","hr":1.28,"lo":0.73,"hi":2.23,"sig":false},
{"r":4,"a":"Univariable analysis (95%CI)","hr":1.02,"lo":0.7,"hi":1.49,"sig":false},
{"r":5,"a":"Univariable analysis (95%CI)","hr":1.34,"lo":0.81,"hi":2.21,"sig":false},
{"r":6,"a":"Univariable analysis (95%CI)","hr":1.14,"lo":0.8,"hi":1.64,"sig":false},
{"r":7,"a":"Univariable analysis (95%CI)","hr":1.56,"lo":1.1,"hi":2.21,"sig":true},
{"r":8,"a":"Univariable analysis (95%CI)","hr":1.9,"lo":1.29,"hi":2.78,"sig":true},
{"r":9,"a":"Univariable analysis (95%CI)","hr":2.12,"lo":1.25,"hi":3.59,"sig":true},
{"r":10,"a":"Univariable analysis (95%CI)","hr":1.3,"lo":0.6,"hi":2.8,"sig":false},
{"r":11,"a":"Univariable analysis (95%CI)","hr":2.52,"lo":1.77,"hi":3.58,"sig":true},
{"r":12,"a":"Univariable analysis (95%CI)","hr":1.32,"lo":0.87,"hi":2.01,"sig":false},
{"r":7,"a":"Multivariable analysis (95%CI)","hr":1.44,"lo":1.0,"hi":2.07,"sig":true},
{"r":8,"a":"Multivariable analysis (95%CI)","hr":1.56,"lo":1.05,"hi":2.32,"sig":true},
{"r":9,"a":"Multivariable analysis (95%CI)","hr":1.36,"lo":0.74,"hi":2.5,"sig":false},
{"r":11,"a":"Multivariable analysis (95%CI)","hr":2.09,"lo":1.43,"hi":3.04,"sig":true}
  ]
},
"vconcat": [
 {
  "hconcat": [
   {"width": 1, "height": 1, "data": {"values": [{}]}, "mark": {"type": "point", "opacity": 0, "size": 0}, "encoding": {}},
   {
    "hconcat": [
     {
      "title": {"text": "A", "anchor": "start", "frame": "bounds", "fontSize": 12, "offset": 16},
      "width": 153, "height": 242,
      "resolve": {"scale": {"x": "independent"}},
      "layer": [
       {"data": {"name": "boxA"},
        "mark": {"type": "boxplot", "extent": 1.5, "size": 53, "opacity": 0.92, "median": {"color": "#FFC4B8", "strokeWidth": 1.2}, "rule": {"opacity": 0.45}, "outliers": {"size": 18, "filled": true}},
        "encoding": {
          "x": {"field": "g", "type": "nominal", "scale": {"domain": ["H", "L"], "paddingInner": 0.23, "paddingOuter": 0.215},
                "axis": {"title": null, "labelExpr": "datum.value=='H' ? 'High score group' : 'Low score group'", "labelAngle": 20, "labelAlign": "center", "labelBaseline": "top", "labelFontSize": 11.5, "labelColor": "black", "domainColor": "#333", "tickColor": "#333", "tickSize": 4, "labelPadding": 4}},
          "y": {"field": "v", "type": "quantitative", "scale": {"domain": [1.505, 2.6], "nice": false, "zero": false},
                "axis": {"title": ["Glutamine metabolism-related", "genes expression score"], "titleFontSize": 12.5, "titleFontWeight": "bold", "titlePadding": 3, "values": [1.75, 2, 2.25, 2.5], "format": ".2f", "labelFontSize": 11, "labelColor": "#333", "grid": false, "domainColor": "#333", "tickColor": "#333", "tickSize": 4}},
          "color": {"field": "g", "type": "nominal", "scale": {"domain": ["H", "L"], "range": ["#FB4A32", "#00BBD3"]}, "legend": null}
        }},
       {"data": {"name": "boxA"}, "transform": [{"filter": "datum.g=='H'"}],
        "mark": {"type": "circle", "size": 24, "stroke": "#111111", "strokeWidth": 0.9, "opacity": 1, "color": "#EE3F1F"},
        "encoding": {
          "x": {"field": "i", "type": "quantitative", "scale": {"domain": [-29.46, 261.8], "nice": false, "zero": false}, "axis": null},
          "y": {"field": "v", "type": "quantitative"}
        }},
       {"data": {"name": "boxA"}, "transform": [{"filter": "datum.g=='L'"}],
        "mark": {"type": "circle", "size": 24, "stroke": "#111111", "strokeWidth": 0.9, "opacity": 1, "color": "#1BB3C7"},
        "encoding": {
          "x": {"field": "i", "type": "quantitative", "scale": {"domain": [-162.7, 128.6], "nice": false, "zero": false}, "axis": null},
          "y": {"field": "v", "type": "quantitative"}
        }},
       {"data": {"values": [{"g": "H", "v": 2.575}]},
        "mark": {"type": "text", "text": "Wilcoxon, p < 2.2 x 10⁻¹⁶", "align": "left", "dx": -17, "fontSize": 10, "color": "#333"},
        "encoding": {"x": {"field": "g", "type": "nominal", "scale": {"type": "band", "domain": ["H", "L"], "paddingInner": 0.23, "paddingOuter": 0.215}, "axis": null}, "y": {"field": "v", "type": "quantitative"}}}
      ]
     },
     {
      "title": {"text": "C", "anchor": "start", "frame": "bounds", "fontSize": 12, "offset": 0},
      "hconcat": [
       {
        "width": 313, "height": 242,
        "view": {"stroke": "#A8A8A8", "strokeWidth": 1.4},
        "title": {"text": "TCGA−LIHC (N=363)", "anchor": "start", "frame": "group", "fontSize": 14.5, "fontWeight": "bold", "offset": 4},
        "layer": [
         {"data": {"name": "gy"}, "mark": {"type": "rule", "color": "#EBEBEB", "strokeWidth": 1},
          "encoding": {"y": {"field": "v", "type": "quantitative", "scale": {"domain": [-0.045, 1.053], "nice": false, "zero": false},
            "axis": {"title": "Overall survival probability", "titleFontSize": 12.5, "titleFontWeight": "bold", "titlePadding": 5,
                     "values": [0, 0.25, 0.5, 0.75, 1], "format": ".2f", "grid": false, "domain": false, "tickSize": 3, "tickColor": "#333", "labelFontSize": 11.5}}}},
         {"data": {"name": "gx"}, "mark": {"type": "rule", "color": "#EBEBEB", "strokeWidth": 1},
          "encoding": {"x": {"field": "v", "type": "quantitative", "scale": {"domain": [-2.8, 62.7], "nice": false, "zero": false},
            "axis": {"title": "Follow up time(m)", "titleFontSize": 12.5, "titleFontWeight": "bold", "titlePadding": 2, "values": [0, 12, 20, 36, 40, 60], "format": "d", "labelFontSize": 11.5, "grid": false, "domain": false, "tickColor": "#333", "tickSize": 4}}}},
         {"data": {"name": "kmref"}, "mark": {"type": "rule", "color": "#9A9A9A", "strokeDash": [3, 3], "strokeWidth": 0.8},
          "encoding": {"x": {"field": "t", "type": "quantitative"}, "x2": {"datum": -2.8}, "y": {"field": "s", "type": "quantitative"}}},
         {"data": {"name": "kmref"}, "mark": {"type": "rule", "color": "#9A9A9A", "strokeDash": [3, 3], "strokeWidth": 0.8},
          "encoding": {"x": {"field": "t", "type": "quantitative"}, "y": {"field": "s", "type": "quantitative"}, "y2": {"datum": -0.045}}},
         {"data": {"name": "kmref"}, "transform": [{"filter": "datum.g=='L'"}], "mark": {"type": "text", "align": "right", "dx": -6, "fontSize": 7.5, "fontWeight": "bold", "color": "#1F5FA8"},
          "encoding": {"x": {"datum": -2.8, "type": "quantitative"}, "y": {"field": "s", "type": "quantitative"}, "text": {"field": "s", "type": "quantitative", "format": ".2f"}}},
         {"data": {"name": "kmref"}, "transform": [{"filter": "datum.g=='H'"}], "mark": {"type": "text", "align": "right", "dx": -6, "fontSize": 7.5, "fontWeight": "bold", "color": "#F22C2C"},
          "encoding": {"x": {"datum": -2.8, "type": "quantitative"}, "y": {"field": "s", "type": "quantitative"}, "text": {"field": "s", "type": "quantitative", "format": ".2f"}}},
         {"data": {"name": "km"}, "mark": {"type": "line", "interpolate": "step-after", "strokeWidth": 1.6},
          "encoding": {"x": {"field": "t", "type": "quantitative"}, "y": {"field": "s", "type": "quantitative"},
            "color": {"field": "g", "type": "nominal", "scale": {"domain": ["High score group", "Low score group"], "range": ["#FF1F1F", "#1C5BA5"]},
              "legend": {"orient": "none", "legendX": 180, "legendY": 3, "title": "Glutamine  metabolism level", "titleFontSize": 12.5, "titleFontWeight": "normal", "titleColor": "#333", "labelFontSize": 12.5, "labelColor": "black", "symbolType": "M-1,0H1M0,-0.6V0.6", "symbolSize": 170, "symbolStrokeWidth": 1.6, "rowPadding": 2, "titlePadding": 5}}}},
         {"data": {"name": "cens"}, "mark": {"type": "point", "shape": "M-1,0H1M0,-1V1", "size": 36, "strokeWidth": 1.1, "filled": false, "opacity": 1},
          "encoding": {"x": {"field": "t", "type": "quantitative"}, "y": {"field": "s", "type": "quantitative"}, "color": {"field": "g", "type": "nominal"}}},
         {"data": {"name": "risk"}, "transform": [{"filter": "datum.g=='H'"}], "mark": {"type": "text", "fontSize": 13, "color": "#FF2A2A"},
          "encoding": {"x": {"field": "t", "type": "quantitative"}, "y": {"datum": 0.063, "type": "quantitative"}, "text": {"field": "n", "type": "nominal"}}},
         {"data": {"name": "risk"}, "transform": [{"filter": "datum.g=='L'"}], "mark": {"type": "text", "fontSize": 13, "color": "#2060A8"},
          "encoding": {"x": {"field": "t", "type": "quantitative"}, "y": {"datum": 0, "type": "quantitative"}, "text": {"field": "n", "type": "nominal"}}},
         {"data": {"values": [{}]}, "mark": {"type": "text", "text": "p = 0.0096", "align": "left", "fontSize": 13.5, "color": "black"},
          "encoding": {"x": {"datum": 1.4, "type": "quantitative"}, "y": {"datum": 0.2, "type": "quantitative"}}}
        ]
       }
      ],
      "resolve": {"scale": {"color": "independent", "fill": "independent"}, "legend": {"color": "independent", "fill": "independent"}}
     }
    ],
    "spacing": 17,
    "resolve": {"scale": {"color": "independent", "fill": "independent"}, "legend": {"color": "independent", "fill": "independent"}}
   }
  ],
  "spacing": 0,
  "resolve": {"scale": {"color": "independent", "fill": "independent"}, "legend": {"color": "independent", "fill": "independent"}}
 },
 {
  "title": {"text": "B", "anchor": "start", "frame": "bounds", "fontSize": 12, "offset": 13},
  "width": 640, "height": 91,
  "data": {"name": "heat"},
  "layer": [
   {"transform": [{"fold": ["grp"], "as": ["row", "gv"]}],
    "mark": {"type": "rect"},
    "encoding": {
      "x": {"field": "col", "type": "ordinal", "scale": {"paddingInner": 0, "paddingOuter": 0}, "axis": null},
      "y": {"field": "row", "type": "nominal", "scale": {"domain": ["grp", "a", "b", "c", "d", "e", "f", "g", "h", "i"], "paddingInner": 0, "paddingOuter": 0},
            "axis": {"orient": "right", "title": null, "domain": false, "ticks": false, "labelPadding": 3, "labelFontSize": 9.5, "labelColor": "black",
                     "labelExpr": "datum.value=='grp'?'group':datum.value=='a'?'ALDH18A1':datum.value=='b'?'GLS':datum.value=='c'?'SLC38A1':datum.value=='d'?'GLUD1':datum.value=='e'?'SLC38A2':datum.value=='f'?'GCLM':datum.value=='g'?'GCLC':datum.value=='h'?'GOT2':'MTHFS'"}},
      "color": {"field": "gv", "type": "nominal", "scale": {"domain": ["H", "L"], "range": ["#FF0000", "#0000FF"]},
                "legend": {"orient": "none", "legendX": 408, "legendY": 97, "title": "group", "titleOrient": "left", "titleFontSize": 9.5, "titleFontWeight": "normal", "titlePadding": 4, "symbolType": "square", "symbolSize": 169, "symbolStrokeWidth": 0, "labelExpr": "datum.value=='H'?'High score group':'Low score group'", "labelFontSize": 10.5, "labelColor": "black", "rowPadding": 0, "labelOffset": 4}}
    }},
   {"transform": [{"fold": ["a", "b", "c", "d", "e", "f", "g", "h", "i"], "as": ["gene", "val"]}],
    "mark": {"type": "rect"},
    "encoding": {
      "x": {"field": "col", "type": "ordinal", "axis": null},
      "y": {"field": "gene", "type": "nominal"},
      "fill": {"field": "val", "type": "quantitative", "scale": {"domain": [4, 0, -4], "range": ["#FF0000", "#FFFFFF", "#0000FF"], "interpolate": "rgb"},
               "legend": {"orient": "none", "legendX": 544, "legendY": 100, "title": null, "direction": "horizontal", "gradientLength": 96, "gradientThickness": 8, "values": [4, -4], "labelExpr": "datum.value > 0 ? 'high' : 'low'", "labelFontSize": 9.5, "labelColor": "#333", "gradientStrokeWidth": 0, "labelOffset": 3}}
    }}
  ],
  "resolve": {"scale": {"color": "independent", "fill": "independent"}}
 },
 {
  "title": {"text": "D", "anchor": "start", "frame": "bounds", "fontSize": 12, "offset": 0},
  "hconcat": [
   {
    "width": 447, "height": 414,
    "data": {"name": "tab"},
    "layer": [
     {"transform": [{"filter": "datum.hl"}], "mark": {"type": "bar", "size": 29.6, "color": "#FF9C9C", "orient": "horizontal"},
      "encoding": {"x": {"datum": 0, "type": "quantitative", "scale": {"domain": [0, 100], "nice": false, "zero": false}, "axis": null}, "x2": {"datum": 100},
                   "y": {"field": "r", "type": "quantitative", "stack": null, "scale": {"domain": [-1.4, 12.59], "reverse": true, "nice": false, "zero": false}, "axis": null}}},
     {"data": {"values": [{}]}, "mark": {"type": "rule", "color": "#444", "strokeWidth": 1},
      "encoding": {"x": {"datum": 0, "type": "quantitative", "axis": null}, "x2": {"datum": 98.4}, "y": {"datum": -0.69, "type": "quantitative", "axis": null}}},
     {"data": {"values": [{}]}, "mark": {"type": "rule", "color": "#555", "strokeWidth": 1},
      "encoding": {"x": {"datum": 0, "type": "quantitative", "axis": null}, "x2": {"datum": 98.4}, "y": {"datum": 0.43, "type": "quantitative", "axis": null}}},
     {"data": {"values": [{}]}, "mark": {"type": "rule", "color": "#777", "strokeWidth": 1.4},
      "encoding": {"x": {"datum": 0, "type": "quantitative", "axis": null}, "x2": {"datum": 98.4}, "y": {"datum": 12.49, "type": "quantitative", "axis": null}}},
     {"data": {"values": [{}]}, "mark": {"type": "text", "text": "Univariate analysis", "font": "Liberation Serif", "fontWeight": "bold", "fontSize": 12.5, "color": "black"},
      "encoding": {"x": {"datum": 51.7, "type": "quantitative", "axis": null}, "y": {"datum": -1.09, "type": "quantitative", "axis": null}}},
     {"data": {"values": [{}]}, "mark": {"type": "text", "text": "Multivariate analysis", "font": "Liberation Serif", "fontWeight": "bold", "fontSize": 12.5, "color": "black"},
      "encoding": {"x": {"datum": 81.7, "type": "quantitative", "axis": null}, "y": {"datum": -1.09, "type": "quantitative", "axis": null}}},
     {"data": {"values": [{}]}, "mark": {"type": "text", "text": "Characteristics", "font": "Liberation Serif", "fontWeight": "bold", "fontSize": 11, "color": "black"},
      "encoding": {"x": {"datum": 19.5, "type": "quantitative", "axis": null}, "y": {"datum": -0.08, "type": "quantitative", "axis": null}}},
     {"data": {"values": [{}]}, "mark": {"type": "text", "text": ["Hazard Ratio", "(95%CI)"], "lineHeight": 14, "font": "Liberation Serif", "fontWeight": "bold", "fontSize": 10.5, "color": "black"},
      "encoding": {"x": {"datum": 46.5, "type": "quantitative", "axis": null}, "y": {"datum": -0.33, "type": "quantitative", "axis": null}}},
     {"data": {"values": [{}]}, "mark": {"type": "text", "text": "P Value", "font": "Liberation Serif", "fontWeight": "bold", "fontSize": 10.5, "color": "black"},
      "encoding": {"x": {"datum": 61.7, "type": "quantitative", "axis": null}, "y": {"datum": -0.08, "type": "quantitative", "axis": null}}},
     {"data": {"values": [{}]}, "mark": {"type": "text", "text": ["Hazard Ratio", "(95%CI)"], "lineHeight": 14, "font": "Liberation Serif", "fontWeight": "bold", "fontSize": 10.5, "color": "black"},
      "encoding": {"x": {"datum": 77.0, "type": "quantitative", "axis": null}, "y": {"datum": -0.33, "type": "quantitative", "axis": null}}},
     {"data": {"values": [{}]}, "mark": {"type": "text", "text": "P Value", "font": "Liberation Serif", "fontWeight": "bold", "fontSize": 10.5, "color": "black"},
      "encoding": {"x": {"datum": 92.8, "type": "quantitative", "axis": null}, "y": {"datum": -0.08, "type": "quantitative", "axis": null}}},
     {"mark": {"type": "text", "font": "Liberation Serif", "fontWeight": "bold", "fontSize": 10, "dy": -7.5, "color": "black"},
      "encoding": {"x": {"datum": 19.5, "type": "quantitative", "axis": null}, "y": {"field": "r", "type": "quantitative", "axis": null}, "text": {"field": "name", "type": "nominal"}}},
     {"mark": {"type": "text", "font": "Liberation Serif", "fontSize": 9.5, "dy": 7.5, "color": "#222"},
      "encoding": {"x": {"datum": 19.5, "type": "quantitative", "axis": null}, "y": {"field": "r", "type": "quantitative", "axis": null}, "text": {"field": "sub", "type": "nominal"}}},
     {"mark": {"type": "text", "font": "Liberation Serif", "fontSize": 11, "color": "#222"},
      "encoding": {"x": {"datum": 46.5, "type": "quantitative", "axis": null}, "y": {"field": "r", "type": "quantitative", "axis": null}, "text": {"field": "uhr", "type": "nominal"}}},
     {"transform": [{"filter": "!datum.us"}], "mark": {"type": "text", "font": "Liberation Serif", "fontSize": 11, "color": "#222"},
      "encoding": {"x": {"datum": 61.7, "type": "quantitative", "axis": null}, "y": {"field": "r", "type": "quantitative", "axis": null}, "text": {"field": "up", "type": "nominal"}}},
     {"transform": [{"filter": "datum.us"}], "mark": {"type": "text", "font": "Liberation Serif", "fontSize": 11, "fontWeight": "bold", "fontStyle": "italic", "color": "black"},
      "encoding": {"x": {"datum": 61.7, "type": "quantitative", "axis": null}, "y": {"field": "r", "type": "quantitative", "axis": null}, "text": {"field": "up", "type": "nominal"}}},
     {"mark": {"type": "text", "font": "Liberation Serif", "fontSize": 11, "color": "#222"},
      "encoding": {"x": {"datum": 77.0, "type": "quantitative", "axis": null}, "y": {"field": "r", "type": "quantitative", "axis": null}, "text": {"field": "mhr", "type": "nominal"}}},
     {"transform": [{"filter": "!datum.ms"}], "mark": {"type": "text", "font": "Liberation Serif", "fontSize": 11, "color": "#222"},
      "encoding": {"x": {"datum": 92.8, "type": "quantitative", "axis": null}, "y": {"field": "r", "type": "quantitative", "axis": null}, "text": {"field": "mp", "type": "nominal"}}},
     {"transform": [{"filter": "datum.ms"}], "mark": {"type": "text", "font": "Liberation Serif", "fontSize": 11, "fontWeight": "bold", "fontStyle": "italic", "color": "black"},
      "encoding": {"x": {"datum": 92.8, "type": "quantitative", "axis": null}, "y": {"field": "r", "type": "quantitative", "axis": null}, "text": {"field": "mp", "type": "nominal"}}}
    ]
   },
   {
    "width": 167, "height": 414,
    "layer": [
     {"data": {"name": "tab"}, "transform": [{"filter": "datum.r % 2 == 1"}], "mark": {"type": "bar", "size": 30, "color": "#E5E5E5", "orient": "horizontal"},
      "encoding": {"x": {"datum": -0.16, "type": "quantitative", "scale": {"domain": [-0.16, 3.75], "nice": false, "zero": false},
                         "axis": {"values": [0, 1, 2, 3], "grid": false, "domain": false, "ticks": false, "labelFontSize": 9.5, "labelColor": "#4D4D4D", "labelPadding": 6, "title": null}},
                   "x2": {"datum": 3.75},
                   "y": {"field": "r", "type": "quantitative", "stack": null, "scale": {"domain": [-1.4, 12.59], "reverse": true, "nice": false, "zero": false}, "axis": null}}},
     {"data": {"values": [{}]}, "mark": {"type": "rule", "color": "#555", "strokeWidth": 1.1},
      "encoding": {"x": {"datum": 0, "type": "quantitative"}, "y": {"datum": 0.43, "type": "quantitative", "axis": null}, "y2": {"datum": 12.59}}},
     {"data": {"values": [{}]}, "mark": {"type": "rule", "color": "#111", "strokeWidth": 1.1},
      "encoding": {"x": {"datum": 1, "type": "quantitative"}, "y": {"datum": 0.43, "type": "quantitative", "axis": null}, "y2": {"datum": 12.59}}},
     {"data": {"values": [{}]}, "mark": {"type": "rule", "color": "#9E9E9E", "strokeWidth": 0.8, "strokeDash": [3, 3]},
      "encoding": {"x": {"datum": 2, "type": "quantitative"}, "y": {"datum": 0.43, "type": "quantitative", "axis": null}, "y2": {"datum": 12.59}}},
     {"data": {"values": [{}]}, "mark": {"type": "rule", "color": "#9E9E9E", "strokeWidth": 0.8, "strokeDash": [3, 3]},
      "encoding": {"x": {"datum": 3, "type": "quantitative"}, "y": {"datum": 0.43, "type": "quantitative", "axis": null}, "y2": {"datum": 12.59}}},
     {"data": {"values": [{}]}, "mark": {"type": "text", "text": "Hazard Ratio ± 95%CI", "font": "Liberation Serif", "fontSize": 14, "color": "black"},
      "encoding": {"x": {"datum": 1.5, "type": "quantitative"}, "y": {"datum": -0.05, "type": "quantitative", "axis": null}}},
     {"data": {"name": "forest"}, "transform": [{"filter": "datum.sig && datum.a=='Univariable analysis (95%CI)'"}], "mark": {"type": "circle", "size": 30, "opacity": 1, "yOffset": -3.7},
      "encoding": {"x": {"field": "hr", "type": "quantitative"}, "y": {"field": "r", "type": "quantitative", "axis": null},
                   "color": {"field": "a", "type": "nominal", "scale": {"domain": ["Univariable analysis (95%CI)", "Multivariable analysis (95%CI)"], "range": ["#F8525C", "#34425F"]},
                             "legend": {"orient": "none", "legendX": 183, "legendY": 222, "title": "Analysis", "titleFontSize": 13, "titleFontWeight": "normal", "titleColor": "#222", "labelFontSize": 10.5, "labelColor": "#333", "symbolSize": 22, "symbolType": "circle", "rowPadding": 4, "titlePadding": 8}}}},
     {"data": {"name": "forest"}, "transform": [{"filter": "datum.sig && datum.a=='Multivariable analysis (95%CI)'"}], "mark": {"type": "circle", "size": 30, "opacity": 1, "yOffset": 3.7},
      "encoding": {"x": {"field": "hr", "type": "quantitative"}, "y": {"field": "r", "type": "quantitative", "axis": null}, "color": {"field": "a", "type": "nominal"}}},
     {"data": {"name": "forest"}, "transform": [{"filter": "datum.a=='Univariable analysis (95%CI)'"}], "mark": {"type": "rule", "strokeWidth": 1.2, "yOffset": -3.7},
      "encoding": {"x": {"field": "lo", "type": "quantitative"}, "x2": {"field": "hi"}, "y": {"field": "r", "type": "quantitative", "axis": null}, "color": {"field": "a", "type": "nominal"}}},
     {"data": {"name": "forest"}, "transform": [{"filter": "datum.a=='Multivariable analysis (95%CI)'"}], "mark": {"type": "rule", "strokeWidth": 1.2, "yOffset": 3.7},
      "encoding": {"x": {"field": "lo", "type": "quantitative"}, "x2": {"field": "hi"}, "y": {"field": "r", "type": "quantitative", "axis": null}, "color": {"field": "a", "type": "nominal"}}},
     {"data": {"name": "forest"}, "transform": [{"filter": "!datum.sig && datum.a=='Univariable analysis (95%CI)'"}], "mark": {"type": "point", "filled": false, "fill": "white", "size": 22, "strokeWidth": 1.3, "opacity": 1, "yOffset": -3.7},
      "encoding": {"x": {"field": "hr", "type": "quantitative"}, "y": {"field": "r", "type": "quantitative", "axis": null}, "color": {"field": "a", "type": "nominal"}}},
     {"data": {"name": "forest"}, "transform": [{"filter": "!datum.sig && datum.a=='Multivariable analysis (95%CI)'"}], "mark": {"type": "point", "filled": false, "fill": "white", "size": 22, "strokeWidth": 1.3, "opacity": 1, "yOffset": 3.7},
      "encoding": {"x": {"field": "hr", "type": "quantitative"}, "y": {"field": "r", "type": "quantitative", "axis": null}, "color": {"field": "a", "type": "nominal"}}}
    ]
   }
  ],
  "spacing": 0,
  "resolve": {"scale": {"color": "independent", "fill": "independent"}, "legend": {"color": "independent", "fill": "independent"}}
 }
],
"spacing": 4,
"resolve": {"scale": {"color": "independent", "fill": "independent"}, "legend": {"color": "independent", "fill": "independent"}}
}
